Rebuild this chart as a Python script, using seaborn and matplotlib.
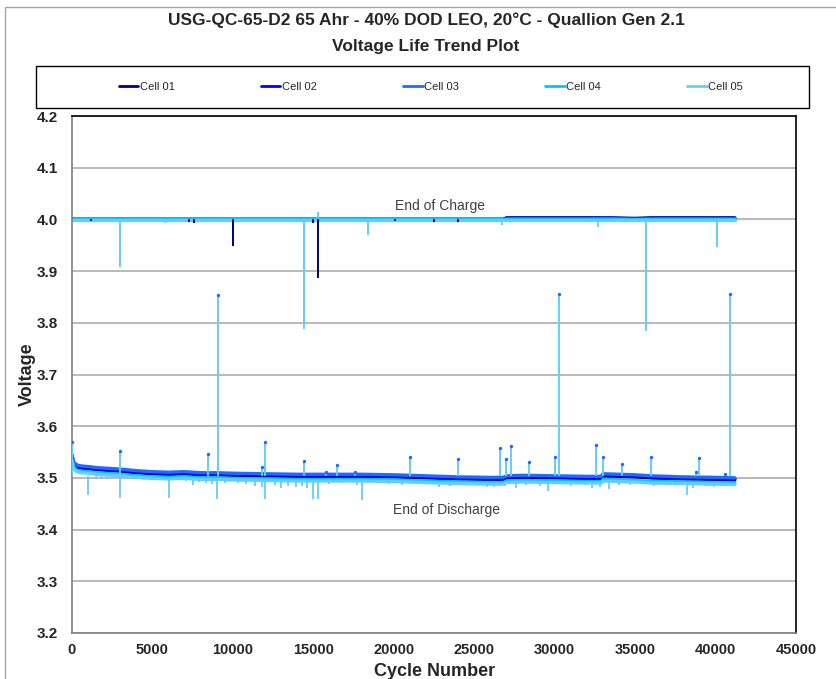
import numpy as np
import pandas as pd
import matplotlib
matplotlib.use("Agg")
import matplotlib.pyplot as plt
from matplotlib.lines import Line2D
from matplotlib.patches import Rectangle
import seaborn as sns

# ---------------- data ----------------
cells = ["Cell 01", "Cell 02", "Cell 03", "Cell 04", "Cell 05"]
colors = ["#000080", "#0000FF", "#1F6BFF", "#00C8FF", "#66CCFF"]

cycles = [0, 100, 300, 600, 1000, 1500, 2000, 3000, 4000, 5000, 6000, 7000, 8000,
          9000, 10000, 12000, 14000, 16000, 18000, 20000, 22000, 24000, 26000,
          26800, 27000, 28000, 30000, 32000, 32900, 33000, 35000, 36000, 38000,
          40000, 41200]

eod_cell01 = [3.540, 3.527, 3.521, 3.519, 3.518, 3.516, 3.515, 3.513, 3.510, 3.508,
              3.507, 3.508, 3.506, 3.506, 3.505, 3.504, 3.503, 3.503, 3.503, 3.502,
              3.500, 3.498, 3.497, 3.497, 3.500, 3.501, 3.500, 3.499, 3.499, 3.504,
              3.502, 3.500, 3.498, 3.497, 3.496]
eod_cell02 = [3.543, 3.529, 3.523, 3.521, 3.520, 3.518, 3.517, 3.515, 3.512, 3.510,
              3.509, 3.510, 3.508, 3.508, 3.507, 3.506, 3.505, 3.505, 3.505, 3.504,
              3.502, 3.500, 3.499, 3.499, 3.502, 3.503, 3.502, 3.501, 3.501, 3.506,
              3.504, 3.502, 3.500, 3.499, 3.498]
eod_cell03 = [3.545, 3.531, 3.525, 3.523, 3.522, 3.520, 3.519, 3.517, 3.514, 3.512,
              3.511, 3.512, 3.510, 3.510, 3.509, 3.508, 3.507, 3.507, 3.507, 3.506,
              3.504, 3.502, 3.501, 3.501, 3.504, 3.505, 3.504, 3.503, 3.503, 3.508,
              3.506, 3.504, 3.502, 3.501, 3.500]
eod_cell04 = [3.535, 3.521, 3.515, 3.513, 3.512, 3.510, 3.509, 3.507, 3.504, 3.502,
              3.501, 3.502, 3.500, 3.500, 3.499, 3.498, 3.497, 3.497, 3.497, 3.496,
              3.494, 3.492, 3.491, 3.491, 3.494, 3.495, 3.494, 3.493, 3.493, 3.497,
              3.495, 3.493, 3.492, 3.491, 3.490]
eod_cell05 = [3.531, 3.518, 3.512, 3.510, 3.509, 3.507, 3.506, 3.504, 3.501, 3.499,
              3.498, 3.499, 3.497, 3.497, 3.496, 3.495, 3.494, 3.494, 3.494, 3.493,
              3.491, 3.489, 3.488, 3.488, 3.491, 3.492, 3.491, 3.490, 3.490, 3.494,
              3.492, 3.490, 3.489, 3.488, 3.487]

eoc_cell01 = [4.001, 4.000, 4.000, 4.000, 4.000, 4.000, 4.000, 4.000, 4.000, 4.000,
              4.000, 4.000, 4.000, 4.000, 4.000, 4.000, 4.000, 4.000, 4.000, 4.000,
              4.000, 4.000, 4.000, 4.000, 4.003, 4.003, 4.003, 4.003, 4.003, 4.003,
              4.002, 4.003, 4.003, 4.003, 4.003]
eoc_cell02 = [4.001, 4.000, 4.000, 4.000, 4.000, 4.000, 4.000, 4.000, 4.000, 4.000,
              4.000, 4.000, 4.000, 4.000, 4.000, 4.000, 4.000, 4.000, 4.000, 4.000,
              4.000, 4.000, 4.000, 4.000, 4.002, 4.002, 4.002, 4.002, 4.003, 4.003,
              4.001, 4.002, 4.002, 4.002, 4.002]
eoc_cell03 = [4.000, 4.000, 4.000, 4.000, 4.000, 4.000, 4.000, 4.000, 4.000, 4.000,
              4.000, 4.000, 4.000, 4.000, 4.000, 4.000, 4.000, 4.000, 4.000, 4.000,
              4.000, 4.000, 4.000, 4.000, 4.001, 4.001, 4.001, 4.001, 4.002, 4.002,
              4.000, 4.001, 4.001, 4.001, 4.001]
eoc_cell04 = [4.000, 4.000, 4.000, 4.000, 4.000, 4.000, 4.000, 4.000, 4.000, 4.000,
              4.000, 4.000, 4.000, 4.000, 4.000, 4.000, 4.000, 4.000, 4.000, 4.000,
              4.000, 4.000, 4.000, 4.000, 4.000, 4.000, 4.000, 4.000, 4.000, 4.000,
              4.000, 4.000, 4.000, 4.000, 4.000]
eoc_cell05 = [3.999, 3.999, 3.999, 3.999, 3.999, 3.999, 3.999, 3.999, 3.999, 3.999,
              3.999, 3.999, 3.999, 3.999, 3.999, 3.999, 3.999, 3.999, 3.999, 3.999,
              3.999, 3.999, 3.999, 3.999, 3.999, 3.999, 3.999, 3.999, 3.999, 3.999,
              3.999, 3.999, 3.999, 3.999, 3.999]

# spikes at end of charge (cell index, cycle, extreme voltage)
eoc_spike_cell = [4, 4, 0, 0, 4, 0, 0, 0, 4, 4, 0, 0, 4, 4, 4, 4, 4, 4, 1, 4, 4, 1]
eoc_spike_cycle = [3000, 10000, 10000, 15300, 14420, 7300, 7600, 14950, 15300, 18400,
                   22500, 24000, 5800, 26700, 32700, 35680, 40100, 29000, 1200, 9200,
                   12500, 20100]
eoc_spike_volt = [3.908, 3.952, 3.948, 3.886, 3.788, 3.995, 3.993, 3.994, 4.015, 3.970,
                  3.995, 3.995, 3.993, 3.990, 3.986, 3.785, 3.947, 3.996, 3.997, 3.996,
                  3.996, 3.997]

# upward spikes at end of discharge
eod_peak_cycle = [0, 3000, 8450, 9100, 11800, 12000, 14400, 15800, 16500, 17600, 21000,
                  24000, 26600, 27000, 27300, 28400, 30000, 30300, 32600, 33000, 34200,
                  36000, 38800, 39000, 40600, 40900]
eod_peak_volt = [3.569, 3.552, 3.547, 3.853, 3.521, 3.570, 3.533, 3.511, 3.525, 3.511,
                 3.541, 3.537, 3.557, 3.537, 3.562, 3.530, 3.540, 3.855, 3.563, 3.540,
                 3.527, 3.540, 3.512, 3.538, 3.508, 3.856]

# downward spikes at end of discharge (cell 05)
eod_dip_cycle = [1000, 3000, 6000, 9000, 12000, 15000, 15300, 18000, 1500, 1800, 2200,
                 2600, 3300, 3800, 4500, 5200, 5700, 6500, 7100, 7500, 7900, 8300, 8700,
                 9500, 10300, 10800, 11400, 11800, 12600, 13000, 13400, 13900, 14300,
                 14600, 16000, 16800, 17300, 17700, 19000, 19700, 20500, 21400, 22000,
                 22800, 23500, 24300, 25100, 25800, 26200, 26900, 27600, 28200, 29100,
                 29600, 31000, 31900, 32300, 32800, 33400, 34000, 34700, 35400, 36200,
                 36900, 37500, 38200, 38600, 39400, 39900, 40500, 41000]
eod_dip_volt = [3.467, 3.462, 3.462, 3.460, 3.460, 3.460, 3.460, 3.458, 3.497, 3.500,
                3.498, 3.499, 3.497, 3.499, 3.496, 3.497, 3.498, 3.495, 3.494, 3.487,
                3.492, 3.490, 3.488, 3.490, 3.491, 3.488, 3.485, 3.482, 3.486, 3.480,
                3.484, 3.482, 3.484, 3.480, 3.488, 3.490, 3.492, 3.487, 3.490, 3.488,
                3.486, 3.490, 3.488, 3.482, 3.484, 3.486, 3.487, 3.482, 3.483, 3.484,
                3.480, 3.486, 3.484, 3.475, 3.485, 3.487, 3.480, 3.482, 3.478, 3.487,
                3.486, 3.488, 3.484, 3.489, 3.486, 3.466, 3.480, 3.484, 3.483, 3.485,
                3.484]

x_ticks = [0, 5000, 10000, 15000, 20000, 25000, 30000, 35000, 40000, 45000]
y_ticks = [3.2, 3.3, 3.4, 3.5, 3.6, 3.7, 3.8, 3.9, 4.0, 4.1, 4.2]

title1 = "USG-QC-65-D2 65 Ahr - 40% DOD LEO, 20°C - Quallion Gen 2.1"
title2 = "Voltage Life Trend Plot"

# ---------------- build table ----------------
eod_all = [eod_cell01, eod_cell02, eod_cell03, eod_cell04, eod_cell05]
eoc_all = [eoc_cell01, eoc_cell02, eoc_cell03, eoc_cell04, eoc_cell05]
rows = []
for name, eod, eoc in zip(cells, eod_all, eoc_all):
    for c, v in zip(cycles, eod):
        rows.append((name, "EOD", c, v))
    for c, v in zip(cycles, eoc):
        rows.append((name, "EOC", c, v))
df = pd.DataFrame(rows, columns=["cell", "phase", "cycle", "voltage"])

# ---------------- figure ----------------
sns.set_theme(style="white")
plt.rcParams["font.family"] = ["Liberation Sans", "DejaVu Sans"]

W, H = 836, 679
fig = plt.figure(figsize=(W / 100, H / 100), dpi=100)
ax = fig.add_axes([72 / W, 1 - 633 / H, 724 / W, 517 / H])

# outer chart-area border
fig.add_artist(Rectangle((5 / W, -0.05), 1.2, 1 - 7 / H + 0.05, transform=fig.transFigure,
                         fill=False, edgecolor="#A6A6A6", linewidth=1.0))

for y in y_ticks:
    ax.axhline(y, color="#A6A6A6", linewidth=1.1, zorder=0)

palette = dict(zip(cells, colors))
sns.lineplot(data=df, x="cycle", y="voltage", hue="cell", units="phase",
             estimator=None, sort=False, palette=palette, linewidth=2.4,
             legend=False, ax=ax, zorder=2)

root_eod = 3.503
root_eoc = 4.0
# EOD dips (cell 05)
ax.vlines(eod_dip_cycle, eod_dip_volt, root_eod, color=colors[4], linewidth=1.3, zorder=1.5)
# EOD peaks
ax.vlines(eod_peak_cycle, root_eod, eod_peak_volt, color=colors[4], linewidth=1.4, zorder=3)
ax.scatter(eod_peak_cycle, eod_peak_volt, s=6, color=colors[2], zorder=3.5, linewidths=0)
# EOC spikes
for ci, c, v in zip(eoc_spike_cell, eoc_spike_cycle, eoc_spike_volt):
    ax.vlines(c, min(v, root_eoc), max(v, root_eoc), color=colors[ci], linewidth=1.4,
              zorder=3 if ci == 4 else 3.2)

ax.set_xlim(0, 45000)
ax.set_ylim(3.2, 4.2)
ax.set_xticks(x_ticks)
ax.set_xticklabels([str(t) for t in x_ticks])
ax.set_yticks(y_ticks)
ax.set_yticklabels([f"{t:.1f}" for t in y_ticks])
ax.tick_params(axis="both", which="both", direction="out", length=4, width=1,
               color="#808080", labelsize=11)
for lab in ax.get_xticklabels() + ax.get_yticklabels():
    lab.set_fontweight("bold")
ax.tick_params(axis="x", labelsize=10.5, pad=3)
ax.tick_params(axis="y", pad=6)

for side in ["left", "bottom"]:
    ax.spines[side].set_color("#808080")
    ax.spines[side].set_linewidth(1.2)
for side in ["top", "right"]:
    ax.spines[side].set_color("#000000")
    ax.spines[side].set_linewidth(1.2)

ax.set_xlabel("Cycle Number", fontsize=13, fontweight="bold")
ax.xaxis.set_label_coords(0.501, -0.058)
ax.set_ylabel("Voltage", fontsize=13, fontweight="bold")
ax.yaxis.set_label_coords(-0.05, 0.5)

ax.text(22900, 4.026, "End of Charge", ha="center", va="center", fontsize=10, color="#404040")
ax.text(23300, 3.438, "End of Discharge", ha="center", va="center", fontsize=10, color="#404040")

fig.text(426 / W, 1 - 20 / H, title1, ha="center", va="center", fontsize=12.5,
         fontweight="bold")
fig.text(426 / W, 1 - 47 / H, title2, ha="center", va="center", fontsize=12.5,
         fontweight="bold")

# legend box
fig.add_artist(Rectangle((36 / W, 1 - 108 / H), (809 - 36) / W, 42 / H,
                         transform=fig.transFigure, facecolor="white",
                         edgecolor="#000000", linewidth=1.0))
handles = [Line2D([0], [0], color=c, linewidth=2) for c in colors]
leg = fig.legend(handles, cells, loc="center", bbox_to_anchor=(431 / W, 1 - 87 / H),
                 ncol=5, frameon=False, handlelength=1.75,
                 handletextpad=0.15, columnspacing=7.75,
                 prop={"family": ["Liberation Sans"], "size": 8})

fig.savefig("out.png", dpi=100)
